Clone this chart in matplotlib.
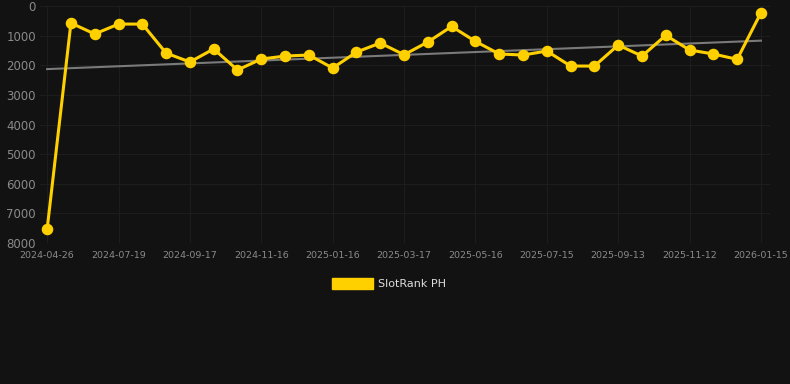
import numpy as np
import matplotlib
matplotlib.use("Agg")
import matplotlib.pyplot as plt
from matplotlib.patches import Rectangle

# rank values (lower is better), one per sample
ranks = [7530, 575, 945, 610, 610, 1590, 1890, 1450, 2160, 1790,
         1690, 1655, 2095, 1555, 1250, 1645, 1216, 690, 1195, 1620,
         1655, 1520, 2027, 2027, 1318, 1690, 990, 1486, 1620, 1800,
         225]
tick_labels = ['2024-04-26', '2024-07-19', '2024-09-17', '2024-11-16',
               '2025-01-16', '2025-03-17', '2025-05-16', '2025-07-15',
               '2025-09-13', '2025-11-12', '2026-01-15']
trend = [2130, 1170]  # trend line start / end
series_name = 'SlotRank PH'

bg = '#121212'
yellow = '#FFD000'

fig = plt.figure(figsize=(7.9, 3.84), dpi=100, facecolor=bg)
ax = fig.add_axes([40 / 790, 1 - 243 / 384, 730 / 790, 237 / 384])
ax.set_facecolor(bg)

x = np.arange(len(ranks))
ax.plot([x[0], x[-1]], trend, color='#7a7a7a', lw=1.5, zorder=2)
ax.plot(x, ranks, color=yellow, lw=2.2, marker='o', ms=7.3, zorder=3)

ax.set_xlim(-0.3, len(ranks) - 1 + 0.38)
ax.set_ylim(8000, 0)
ax.set_yticks(range(0, 8001, 1000))
ax.set_xticks(x[::3])
ax.set_xticklabels(tick_labels)

ax.grid(True, color='#1d1d1d', lw=0.8)
ax.set_axisbelow(True)
for s in ax.spines.values():
    s.set_visible(False)
ax.tick_params(axis='both', length=0, colors='#8a8a8a')
ax.tick_params(axis='y', labelsize=8.5, pad=3)
ax.tick_params(axis='x', labelsize=6.8, pad=6)

# legend drawn by hand to match the box style
fig.patches.append(Rectangle((332 / 790, 1 - 289 / 384), 41 / 790, 11 / 384,
                             transform=fig.transFigure, color=yellow))
fig.text(378 / 790, 1 - 284 / 384, series_name, color='#dddddd',
         fontsize=8, va='center', ha='left')

fig.savefig('out.png', dpi=100, facecolor=bg)
